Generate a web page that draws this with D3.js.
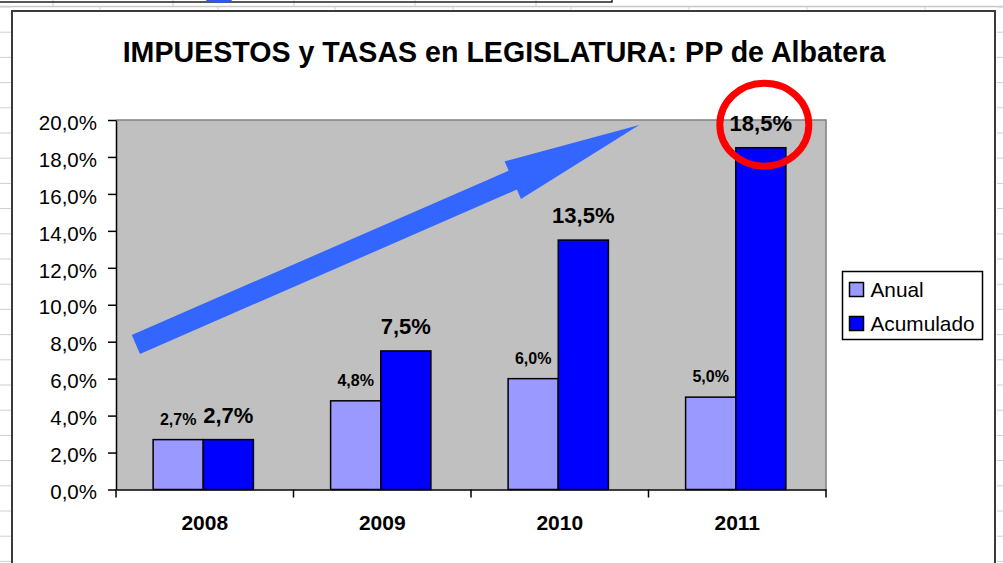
<!DOCTYPE html>
<html>
<head>
<meta charset="utf-8">
<script src="https://cdn.jsdelivr.net/npm/d3@7"></script>
<style>
  body { margin: 0; background: #fff; }
  text { font-family: "Liberation Sans", Arial, sans-serif; }
</style>
</head>
<body>
<div id="container"></div>
<script>
/* CONSTANTS AND DATA */
const width = 1003,
    height = 563,
    plot = { left: 116, right: 826, top: 120, bottom: 489.5 };

const years = ["2008", "2009", "2010", "2011"];
const anual = [0.027, 0.048, 0.060, 0.050];
const acumulado = [0.027, 0.075, 0.135, 0.185];
const seriesNames = ["Anual", "Acumulado"];
const seriesColors = ["#9999FF", "#0000FF"];
const yTicks = [0, 0.02, 0.04, 0.06, 0.08, 0.10, 0.12, 0.14, 0.16, 0.18, 0.20];
const title = "IMPUESTOS y TASAS en LEGISLATURA: PP de Albatera";

// trend arrow (annotation) in plot fraction / value units
const arrowTail = [0.028, 0.0785],
    arrowTip = [0.737, 0.1973];

const locale = d3.formatLocale({ decimal: ",", thousands: ".", grouping: [3], currency: ["", "€"] });
const pct = locale.format(".1%");

const data = years.map((y, i) => ({ year: y, Anual: anual[i], Acumulado: acumulado[i] }));

/* SCALES */
const xScale = d3.scaleBand()
    .domain(years)
    .range([plot.left, plot.right])
    .paddingInner(0)
    .paddingOuter(0);

const groupW = xScale.bandwidth() * 0.565;
const xInner = d3.scaleBand()
    .domain(seriesNames)
    .range([0, groupW]);

const yScale = d3.scaleLinear()
    .domain([0, 0.20])
    .range([plot.bottom, plot.top]);

const fracX = d3.scaleLinear().domain([0, 1]).range([plot.left, plot.right]);

const colorScale = d3.scaleOrdinal().domain(seriesNames).range(seriesColors);

/* SVG */
const svg = d3.select("#container")
    .append("svg")
    .attr("width", width)
    .attr("height", height)
    .style("display", "block");

svg.append("rect").attr("width", width).attr("height", height).attr("fill", "#fff");

// spreadsheet bits around the chart
svg.append("line").attr("x1", 0).attr("x2", width).attr("y1", 6.5).attr("y2", 6.5)
    .attr("stroke", "#c8c8c8").attr("stroke-width", 1.5);
[53, 173, 294, 415, 536].forEach(x => {
    svg.append("line").attr("x1", x).attr("x2", x).attr("y1", 0).attr("y2", 6)
        .attr("stroke", "#cfcfcf");
});
[100, 218, 335, 453, 571, 689, 807, 925].forEach(x => {
    svg.append("line").attr("x1", x).attr("x2", x).attr("y1", 6).attr("y2", 11)
        .attr("stroke", "#cfcfcf");
});
svg.append("path").attr("d", "M0,2H612V0").attr("fill", "none")
    .attr("stroke", "#222").attr("stroke-width", 1.5);
svg.append("ellipse").attr("cx", 219).attr("cy", 0).attr("rx", 13).attr("ry", 3)
    .attr("fill", "#3355ee");
d3.range(0, 23).forEach(k => {
    const yy = 7 + k * 25.2;
    svg.append("line").attr("x1", 0).attr("x2", 11).attr("y1", yy).attr("y2", yy).attr("stroke", "#d0d0d0");
    svg.append("line").attr("x1", 997).attr("x2", width).attr("y1", yy).attr("y2", yy).attr("stroke", "#d0d0d0");
});

// chart area border
svg.append("rect")
    .attr("x", 12).attr("y", 11)
    .attr("width", 983).attr("height", 600)
    .attr("fill", "#fff")
    .attr("stroke", "#3a3a3a")
    .attr("stroke-width", 2);

//TITLE
svg.append("text")
    .attr("x", 504)
    .attr("y", 62)
    .attr("text-anchor", "middle")
    .style("font-size", "28.6px")
    .style("font-weight", "bold")
    .attr("fill", "#000")
    .text(title);

//PLOT AREA
svg.append("rect")
    .attr("x", plot.left).attr("y", plot.top)
    .attr("width", plot.right - plot.left)
    .attr("height", plot.bottom - plot.top)
    .attr("fill", "#C0C0C0");
svg.append("path")
    .attr("d", `M${plot.left},${plot.top}H${plot.right}V${plot.bottom}`)
    .attr("fill", "none")
    .attr("stroke", "#808080")
    .attr("stroke-width", 1.5);

//BARS
const groups = svg.selectAll("g.year")
    .data(data)
    .join("g")
    .attr("class", "year")
    .attr("transform", d => `translate(${xScale(d.year) + (xScale.bandwidth() - groupW) / 2 - 1.5},0)`);

groups.selectAll("rect")
    .data(d => seriesNames.map(s => ({ key: s, value: d[s] })))
    .join("rect")
    .attr("x", d => xInner(d.key))
    .attr("y", d => yScale(d.value))
    .attr("width", xInner.bandwidth())
    .attr("height", d => yScale(0) - yScale(d.value))
    .attr("fill", d => colorScale(d.key))
    .attr("stroke", "#000")
    .attr("stroke-width", 1.5);

//BAR LABELS
groups.selectAll("text.lbl")
    .data(d => seriesNames.map(s => ({ key: s, value: d[s] })))
    .join("text")
    .attr("class", "lbl")
    .attr("x", d => xInner(d.key) + xInner.bandwidth() / 2)
    .attr("y", d => yScale(d.value) - (d.key === "Anual" ? 15 : 17))
    .attr("text-anchor", "middle")
    .style("font-weight", "bold")
    .style("font-size", d => d.key === "Anual" ? "16px" : "22px")
    .attr("fill", "#000")
    .text(d => pct(d.value));

//Y AXIS
const yAxis = d3.axisLeft(yScale)
    .tickValues(yTicks)
    .tickFormat(pct)
    .tickSize(8)
    .tickSizeOuter(0)
    .tickPadding(11);
const gy = svg.append("g")
    .attr("class", "axis")
    .attr("transform", `translate(${plot.left},0)`)
    .call(yAxis);
gy.select(".domain").attr("stroke", "#000").attr("stroke-width", 1.5);
gy.selectAll(".tick line").attr("stroke", "#000").attr("stroke-width", 1.5);
gy.selectAll(".tick text")
    .attr("dy", "0.45em")
    .attr("fill", "#000")
    .style("font-size", "20.5px")
    .style("font-family", "'Liberation Sans', Arial, sans-serif");

//X AXIS
const xAxis = d3.axisBottom(xScale).tickSize(0).tickPadding(26);
const gx = svg.append("g")
    .attr("class", "axis")
    .attr("transform", `translate(0,${plot.bottom})`)
    .call(xAxis);
gx.select(".domain").attr("stroke", "#000").attr("stroke-width", 1.5);
gx.selectAll(".tick text")
    .attr("fill", "#000")
    .style("font-size", "21px")
    .style("font-weight", "bold")
    .style("font-family", "'Liberation Sans', Arial, sans-serif");
gx.selectAll("line.sep")
    .data(years.map(y => xScale(y)).concat([plot.right]))
    .join("line")
    .attr("class", "sep")
    .attr("x1", d => d).attr("x2", d => d)
    .attr("y1", 0).attr("y2", 8)
    .attr("stroke", "#000")
    .attr("stroke-width", 1.5);

//TREND ARROW
const t0 = [fracX(arrowTail[0]), yScale(arrowTail[1])],
    t1 = [fracX(arrowTip[0]), yScale(arrowTip[1])];
const len = Math.hypot(t1[0] - t0[0], t1[1] - t0[1]);
const u = [(t1[0] - t0[0]) / len, (t1[1] - t0[1]) / len],
    n = [-u[1], u[0]];
const headLen = 138, shaftHalf = 10.3, headHalf = 20.5;
const hb = [t1[0] - u[0] * headLen, t1[1] - u[1] * headLen];
const pt = (p, k) => [p[0] + n[0] * k, p[1] + n[1] * k];
const arrowPts = [
    pt(t0, shaftHalf), pt(hb, shaftHalf), pt(hb, headHalf), t1,
    pt(hb, -headHalf), pt(hb, -shaftHalf), pt(t0, -shaftHalf)
];
svg.append("path")
    .attr("d", d3.line()(arrowPts) + "Z")
    .attr("fill", "#3366FF");

//RED CIRCLE AROUND LAST VALUE
const last = data[data.length - 1];
svg.append("ellipse")
    .attr("cx", xScale(last.year) + (xScale.bandwidth() - groupW) / 2 - 1.5 + xInner("Acumulado") + xInner.bandwidth() / 2 + 3.5)
    .attr("cy", yScale(last.Acumulado) - 23)
    .attr("rx", 44.5)
    .attr("ry", 41.5)
    .attr("fill", "none")
    .attr("stroke", "#FF0000")
    .attr("stroke-width", 7);

//LEGEND
const legend = svg.append("g").attr("transform", "translate(842.5,271.5)");
legend.append("rect")
    .attr("width", 140).attr("height", 68)
    .attr("fill", "#fff")
    .attr("stroke", "#000")
    .attr("stroke-width", 1.5);
const item = legend.selectAll("g.item")
    .data(seriesNames)
    .join("g")
    .attr("class", "item")
    .attr("transform", (d, i) => `translate(7,${11 + i * 34})`);
item.append("rect")
    .attr("width", 14).attr("height", 14)
    .attr("fill", d => colorScale(d))
    .attr("stroke", "#000")
    .attr("stroke-width", 1.5);
item.append("text")
    .attr("x", 21)
    .attr("y", 14.5)
    .style("font-size", "20.8px")
    .attr("fill", "#000")
    .text(d => d);
</script>
</body>
</html>
